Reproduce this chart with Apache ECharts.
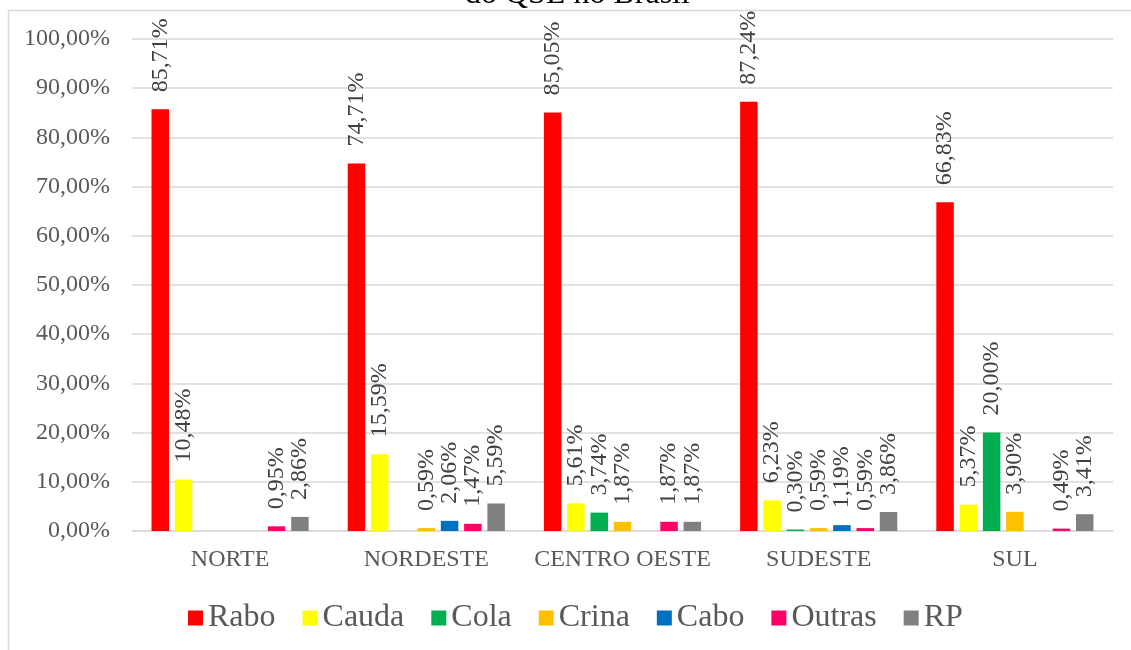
<!DOCTYPE html>
<html>
<head>
<meta charset="utf-8">
<script src="https://cdn.jsdelivr.net/npm/echarts@6/dist/echarts.min.js"></script>
<style>html,body{margin:0;padding:0;background:#fff;}#c{width:1131px;height:650px;}</style>
</head>
<body>
<div id="c"></div>
<script>
const categories = ['NORTE', 'NORDESTE', 'CENTRO OESTE', 'SUDESTE', 'SUL'];
const seriesNames = ['Rabo', 'Cauda', 'Cola', 'Crina', 'Cabo', 'Outras', 'RP'];
const rabo   = [85.71, 74.71, 85.05, 87.24, 66.83];
const cauda  = [10.48, 15.59, 5.61, 6.23, 5.37];
const cola   = [null, null, 3.74, 0.30, 20.00];
const crina  = [null, 0.59, 1.87, 0.59, 3.90];
const cabo   = [null, 2.06, null, 1.19, null];
const outras = [0.95, 1.47, 1.87, 0.59, 0.49];
const rp     = [2.86, 5.59, 1.87, 3.86, 3.41];
const colors = ['#FF0000', '#FFFF00', '#00B050', '#FFC000', '#0070C0', '#FF0066', '#808080'];
const yTicks = { min: 0, max: 100, interval: 10 };
const titleText = 'do QSL no Brasil';

const allData = [rabo, cauda, cola, crina, cabo, outras, rp];
const font = '"Liberation Serif", "Times New Roman", serif';
const fmt = v => v.toFixed(2).replace('.', ',') + '%';

const chart = echarts.init(document.getElementById('c'), null, { renderer: 'canvas' });
chart.setOption({
  animation: false,
  color: colors,
  title: {
    text: titleText, left: 460, top: -26,
    textStyle: { fontFamily: font, fontSize: 32, fontWeight: 'normal', color: '#000' }
  },
  graphic: [{
    type: 'rect', z: -1,
    shape: { x: 8.5, y: 10.5, width: 1300, height: 800 },
    style: { fill: '#fff', stroke: '#D9D9D9', lineWidth: 1.5 }
  }],
  grid: { left: 132, right: 18, top: 39, bottom: 119 },
  legend: {
    data: seriesNames, left: 183, top: 597,
    itemWidth: 15, itemHeight: 15, itemGap: 27,
    icon: 'rect',
    textStyle: { fontFamily: font, fontSize: 32, color: '#595959' }
  },
  xAxis: {
    type: 'category', data: categories,
    axisLine: { lineStyle: { color: '#D9D9D9', width: 1.5 } },
    axisTick: { show: false },
    axisLabel: { interval: 0, fontFamily: font, fontSize: 24, color: '#595959', margin: 17 }
  },
  yAxis: {
    type: 'value', min: yTicks.min, max: yTicks.max, interval: yTicks.interval,
    axisLine: { show: false }, axisTick: { show: false },
    splitLine: { lineStyle: { color: '#D9D9D9', width: 1.5 } },
    axisLabel: { fontFamily: font, fontSize: 24, color: '#595959', margin: 22, formatter: v => fmt(v) }
  },
  series: seriesNames.map((n, i) => ({
    name: n, type: 'bar', data: allData[i],
    barWidth: 17.5, barGap: '33%',
    label: {
      show: true, position: 'top', rotate: 90, align: 'left', verticalAlign: 'middle',
      distance: 17, fontFamily: font, fontSize: 24, color: '#404040',
      formatter: p => (p.value == null ? '' : fmt(p.value))
    }
  }))
});
</script>
</body>
</html>
